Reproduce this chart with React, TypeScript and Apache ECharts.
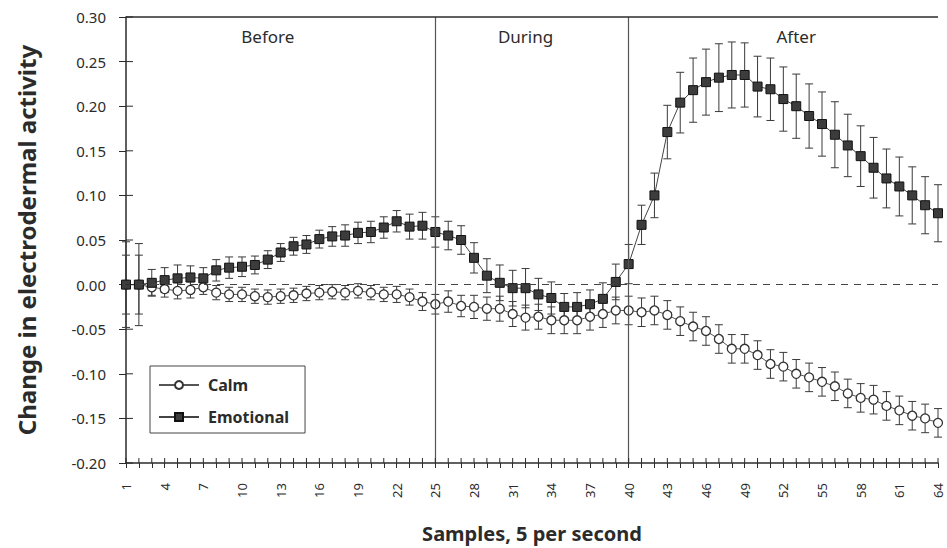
import React, { useEffect, useRef } from "react";
import * as echarts from "echarts";

const samples = [
  "1","2","3","4","5","6","7","8","9","10","11","12","13","14","15","16",
  "17","18","19","20","21","22","23","24","25","26","27","28","29","30","31","32",
  "33","34","35","36","37","38","39","40","41","42","43","44","45","46","47","48",
  "49","50","51","52","53","54","55","56","57","58","59","60","61","62","63","64",
];

const yTicks = [-0.2, -0.15, -0.1, -0.05, 0, 0.05, 0.1, 0.15, 0.2, 0.25, 0.3];

const emotional = [
  0.000, 0.000, 0.002, 0.005, 0.007, 0.008, 0.007, 0.016, 0.019, 0.020,
  0.022, 0.028, 0.036, 0.043, 0.045, 0.051, 0.054, 0.055, 0.058, 0.059,
  0.064, 0.071, 0.065, 0.066, 0.059, 0.055, 0.050, 0.030, 0.010, 0.002,
  -0.004, -0.004, -0.011, -0.015, -0.025, -0.025, -0.022, -0.016, 0.003, 0.023,
  0.067, 0.100, 0.171, 0.204, 0.218, 0.227, 0.232, 0.235, 0.235, 0.222,
  0.219, 0.208, 0.200, 0.189, 0.180, 0.168, 0.156, 0.144, 0.131, 0.119,
  0.110, 0.100, 0.089, 0.080,
];

const emotionalErr = [
  0.048, 0.046, 0.015, 0.014, 0.015, 0.013, 0.012, 0.012, 0.012, 0.011,
  0.010, 0.010, 0.010, 0.010, 0.010, 0.010, 0.011, 0.012, 0.012, 0.012,
  0.012, 0.012, 0.014, 0.015, 0.017, 0.016, 0.016, 0.017, 0.019, 0.020,
  0.020, 0.022, 0.018, 0.018, 0.015, 0.016, 0.016, 0.018, 0.020, 0.022,
  0.022, 0.025, 0.030, 0.034, 0.036, 0.037, 0.038, 0.037, 0.036, 0.034,
  0.035, 0.036, 0.036, 0.036, 0.036, 0.037, 0.035, 0.034, 0.034, 0.033,
  0.033, 0.032, 0.032, 0.032,
];

const calm = [
  0.000, 0.000, -0.003, -0.005, -0.007, -0.006, -0.003, -0.009, -0.011, -0.011,
  -0.013, -0.014, -0.013, -0.012, -0.010, -0.009, -0.008, -0.009, -0.007, -0.009,
  -0.011, -0.011, -0.014, -0.019, -0.022, -0.019, -0.024, -0.025, -0.027, -0.027,
  -0.033, -0.037, -0.036, -0.040, -0.040, -0.040, -0.036, -0.033, -0.029, -0.029,
  -0.031, -0.029, -0.034, -0.041, -0.047, -0.052, -0.061, -0.072, -0.072, -0.079,
  -0.089, -0.092, -0.100, -0.104, -0.109, -0.114, -0.122, -0.127, -0.129, -0.136,
  -0.141, -0.147, -0.150, -0.155,
];

const calmErr = [
  0.033, 0.033, 0.009, 0.009, 0.009, 0.009, 0.008, 0.008, 0.008, 0.008,
  0.008, 0.008, 0.008, 0.008, 0.008, 0.008, 0.008, 0.008, 0.008, 0.008,
  0.008, 0.009, 0.009, 0.010, 0.011, 0.012, 0.012, 0.013, 0.013, 0.014,
  0.014, 0.014, 0.014, 0.015, 0.015, 0.015, 0.015, 0.015, 0.015, 0.016,
  0.016, 0.016, 0.016, 0.016, 0.016, 0.016, 0.016, 0.016, 0.016, 0.016,
  0.016, 0.016, 0.016, 0.016, 0.016, 0.016, 0.016, 0.016, 0.016, 0.016,
  0.016, 0.016, 0.016, 0.016,
];

const phaseLabels = ["Before", "During", "After"];
const phaseLabelSamples = ["12", "32", "53"];
const phaseBoundaries = ["25", "40"];

const FONT = "'Noto Sans', 'Open Sans', sans-serif";
const INK = "#2b2b2b";

function errorSeries(name: string, values: number[], errs: number[], color: string) {
  return {
    name,
    type: "custom",
    z: 1,
    silent: true,
    encode: { x: 0, y: [1, 2] },
    data: values.map((v, i) => [i, v - errs[i], v + errs[i]]),
    renderItem: (params: any, api: any) => {
      const x = api.value(0);
      const lo = api.coord([x, api.value(1)]);
      const hi = api.coord([x, api.value(2)]);
      const hw = 4;
      const style = { stroke: color, lineWidth: 1 };
      return {
        type: "group",
        children: [
          { type: "line", shape: { x1: hi[0], y1: hi[1], x2: lo[0], y2: lo[1] }, style },
          { type: "line", shape: { x1: hi[0] - hw, y1: hi[1], x2: hi[0] + hw, y2: hi[1] }, style },
          { type: "line", shape: { x1: lo[0] - hw, y1: lo[1], x2: lo[0] + hw, y2: lo[1] }, style },
        ],
      };
    },
  };
}

// Inner halves of the tick marks, so that ticks cross the axis lines as in the reference
const innerYTicks = {
  name: "yTicksInner",
  type: "custom",
  z: 5,
  silent: true,
  clip: false,
  encode: { x: 0, y: 1 },
  data: yTicks.map((v) => [0, v]),
  renderItem: (params: any, api: any) => {
    const p = api.coord([api.value(0), api.value(1)]);
    return {
      type: "line",
      shape: { x1: p[0], y1: p[1], x2: p[0] + 7, y2: p[1] },
      style: { stroke: INK, lineWidth: 1 },
    };
  },
};

const innerXTicks = {
  name: "xTicksInner",
  type: "custom",
  z: 5,
  silent: true,
  clip: false,
  encode: { x: 0, y: 1 },
  data: samples.map((s, i) => [i, yTicks[0]]),
  renderItem: (params: any, api: any) => {
    const p = api.coord([api.value(0), api.value(1)]);
    return {
      type: "line",
      shape: { x1: p[0], y1: p[1], x2: p[0], y2: p[1] - 5 },
      style: { stroke: INK, lineWidth: 1 },
    };
  },
};

export default function App() {
  const ref = useRef<HTMLDivElement>(null);

  useEffect(() => {
    if (!ref.current) return;
    const chart = echarts.init(ref.current, null, { renderer: "svg" });
    const option: any = {
      animation: false,
      backgroundColor: "#ffffff",
      grid: { left: 126, right: 9, top: 17, bottom: 81, containLabel: false },
      legend: {
        data: ["Calm", "Emotional"],
        orient: "vertical",
        left: 150,
        top: 366,
        itemWidth: 40,
        itemHeight: 10,
        itemGap: 16,
        borderColor: "#444",
        borderWidth: 1,
        borderRadius: 0,
        padding: [11, 16, 8, 8],
        textStyle: { fontFamily: FONT, fontWeight: "bold", fontSize: 16, color: INK, padding: [0, 0, 0, 4] },
      },
      xAxis: {
        type: "category",
        data: samples,
        boundaryGap: false,
        position: "bottom",
        axisLine: { show: true, onZero: false, lineStyle: { color: INK, width: 1.5 } },
        axisTick: { show: true, interval: 0, length: 5, lineStyle: { color: INK } },
        axisLabel: { interval: 2, rotate: 90, fontFamily: FONT, fontSize: 13, color: INK, margin: 20 },
        splitLine: { show: false },
        name: "Samples, 5 per second",
        nameLocation: "middle",
        nameGap: 60,
        nameTextStyle: { fontFamily: FONT, fontWeight: "bold", fontSize: 20, color: INK },
      },
      yAxis: {
        type: "value",
        min: -0.2,
        max: 0.3,
        interval: 0.05,
        position: "left",
        axisLine: { show: true, lineStyle: { color: INK, width: 1.5 } },
        axisTick: { show: true, length: 7, lineStyle: { color: INK } },
        axisLabel: {
          fontFamily: FONT,
          fontSize: 15,
          color: INK,
          margin: 20,
          formatter: (v: number) => v.toFixed(2),
        },
        splitLine: { show: false },
        name: "Change in electrodermal activity",
        nameLocation: "middle",
        nameGap: 88,
        nameTextStyle: { fontFamily: FONT, fontWeight: "bold", fontSize: 24, color: INK },
      },
      series: [
        errorSeries("calmErr", calm, calmErr, "#3a3a3a"),
        errorSeries("emotionalErr", emotional, emotionalErr, "#3a3a3a"),
        innerYTicks,
        innerXTicks,
        {
          name: "Calm",
          type: "line",
          data: calm,
          z: 3,
          symbol: "circle",
          symbolSize: 9,
          showSymbol: true,
          showAllSymbol: true,
          itemStyle: { color: "#ffffff", borderColor: "#333", borderWidth: 1.3 },
          lineStyle: { color: "#555", width: 1 },
          markLine: {
            silent: true,
            symbol: "none",
            label: { show: false },
            data: [
              ...phaseBoundaries.map((s) => ({ xAxis: s, lineStyle: { color: "#555", width: 1.2, type: "solid" } })),
              { yAxis: 0, lineStyle: { color: "#444", width: 1, type: [7, 6] } },
              { yAxis: 0.3, lineStyle: { color: INK, width: 1.5, type: "solid" } },
            ],
          },
        },
        {
          name: "Emotional",
          type: "line",
          data: emotional,
          z: 4,
          symbol: "rect",
          symbolSize: 9,
          showSymbol: true,
          showAllSymbol: true,
          itemStyle: { color: "#3c3c3c", borderColor: "#111", borderWidth: 1 },
          lineStyle: { color: "#444", width: 1 },
          markPoint: {
            silent: true,
            symbol: "rect",
            symbolSize: 1,
            itemStyle: { color: "rgba(0,0,0,0)" },
            label: {
              show: true,
              position: "inside",
              formatter: "{b}",
              fontFamily: FONT,
              fontSize: 17,
              color: INK,
            },
            data: phaseLabels.map((n, i) => ({ name: n, coord: [phaseLabelSamples[i], 0.278] })),
          },
        },
      ],
    };
    chart.setOption(option);
    return () => chart.dispose();
  }, []);

  return (
    <div
      ref={ref}
      style={{ position: "fixed", left: 0, top: 0, width: 947, height: 548, background: "#fff" }}
    />
  );
}
